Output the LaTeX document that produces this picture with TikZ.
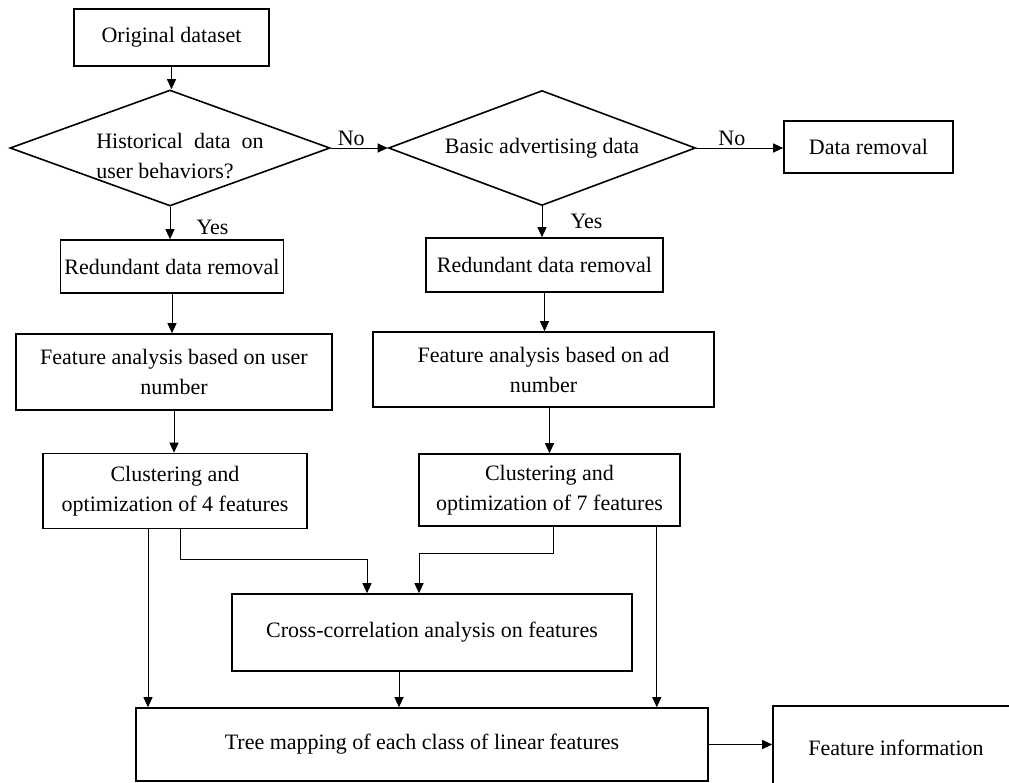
\documentclass[tikz,border=0pt]{standalone}
\usepackage{fontspec}
\setmainfont{Liberation Serif}
\usetikzlibrary{shapes,shapes.geometric,calc,arrows.meta}
\tikzset{
  x=0.5pt, y=-0.5pt,
  flow_txt/.style = {font=\fontsize{11pt}{15pt}\selectfont},
  flow_box/.style = {flow_txt, rectangle, draw=black, line width=0.8pt, align=center, inner sep=2pt},
  flow_dec/.style = {flow_txt, diamond, draw=black, line width=0.8pt, align=center, inner sep=0pt},
  flow_arr/.style = {draw=black, line width=0.5pt, -{Triangle[length=5pt,width=4.5pt]}},
  flow_lab/.style = {flow_txt, inner sep=1pt}
}

\begin{document}
\begin{tikzpicture}
\useasboundingbox (0,0) rectangle (1009,783);

\node [flow_box, minimum width=97.5pt, minimum height=28.5pt] (orig) at (171.5,37.5) {Original dataset};
\node [flow_dec, minimum width=160pt, minimum height=58pt, aspect=2.76] (hist) at (170,148) {};
\node [flow_txt, align=left, inner sep=0pt] (hist_txt) at (180,156) {Historical\ \ data\ \ on\\user behaviors?};
\node [flow_dec, minimum width=153.5pt, minimum height=57.5pt, aspect=2.67] (basic) at (542,148) {Basic advertising data};
\node [flow_box, minimum width=84.5pt, minimum height=26pt] (removal) at (868.5,147) {Data removal};
\node [flow_box, minimum width=111pt, minimum height=26.5pt] (red_u) at (172,266.5) {Redundant data removal};
\node [flow_box, minimum width=118.5pt, minimum height=27pt] (red_a) at (544.5,265) {Redundant data removal};
\node [flow_box, minimum width=158pt, minimum height=38pt] (feat_u) at (174,372) {Feature analysis based on user\\number};
\node [flow_box, minimum width=170.5pt, minimum height=37.5pt] (feat_a) at (543.5,369.5) {Feature analysis based on ad\\number};
\node [flow_box, minimum width=132pt, minimum height=37.5pt] (clus_u) at (175,491) {Clustering and\\optimization of 4 features};
\node [flow_box, minimum width=130.5pt, minimum height=36pt] (clus_a) at (549.5,490) {Clustering and\\optimization of 7 features};
\node [flow_box, minimum width=200pt, minimum height=38.5pt] (cross) at (432,632.5) {Cross-correlation analysis on features};
\node [flow_box, minimum width=286pt, minimum height=36.5pt] (tree) at (422,744.5) {Tree mapping of each class of linear features};
\node [flow_box, minimum width=123pt, minimum height=42pt] (info) at (896,748) {Feature information};

\coordinate (cu_l) at ([xshift=-13.5pt]clus_u.south);
\coordinate (cu_r) at ([xshift=2.5pt]clus_u.south);
\coordinate (ca_l) at ([xshift=1.75pt]clus_a.south);
\coordinate (ca_r) at ([xshift=-12pt]clus_a.south east);
\coordinate (cr_l) at ([xshift=-32.5pt]cross.north);
\coordinate (cr_r) at ([xshift=-6.5pt]cross.north);
\coordinate (cr_b) at ([xshift=-16.5pt]cross.south);

\draw [flow_arr] (orig.south) -- (orig.south |- hist.north);
\draw [flow_arr] (hist.east) -- node [flow_lab, above, pos=.36] {No} (basic.west);
\draw [flow_arr] (basic.east) -- node [flow_lab, above, pos=.41] {No} (basic.east -| removal.west);
\draw [flow_arr] (hist.south) -- node [flow_lab, right, pos=.65, xshift=12pt] {Yes} (hist.south |- red_u.north);
\draw [flow_arr] (basic.south) -- node [flow_lab, right, pos=.5, xshift=13pt] {Yes} (basic.south |- red_a.north);
\draw [flow_arr] (red_u.south) -- (red_u.south |- feat_u.north);
\draw [flow_arr] (red_a.south) -- (red_a.south |- feat_a.north);
\draw [flow_arr] (feat_u.south) -- (feat_u.south |- clus_u.north);
\draw [flow_arr] (clus_a.north |- feat_a.south) -- (clus_a.north);
\draw [flow_arr] (cu_l) -- (cu_l |- tree.north);
\draw [flow_arr] (cu_r) -- ++(0,30) -| (cr_l);
\draw [flow_arr] (ca_l) -- ++(0,27) -| (cr_r);
\draw [flow_arr] (ca_r) -- (ca_r |- tree.north);
\draw [flow_arr] (cr_b) -- (cr_b |- tree.north);
\draw [flow_arr] (tree.east) -- (tree.east -| info.west);
\end{tikzpicture}
\end{document}
